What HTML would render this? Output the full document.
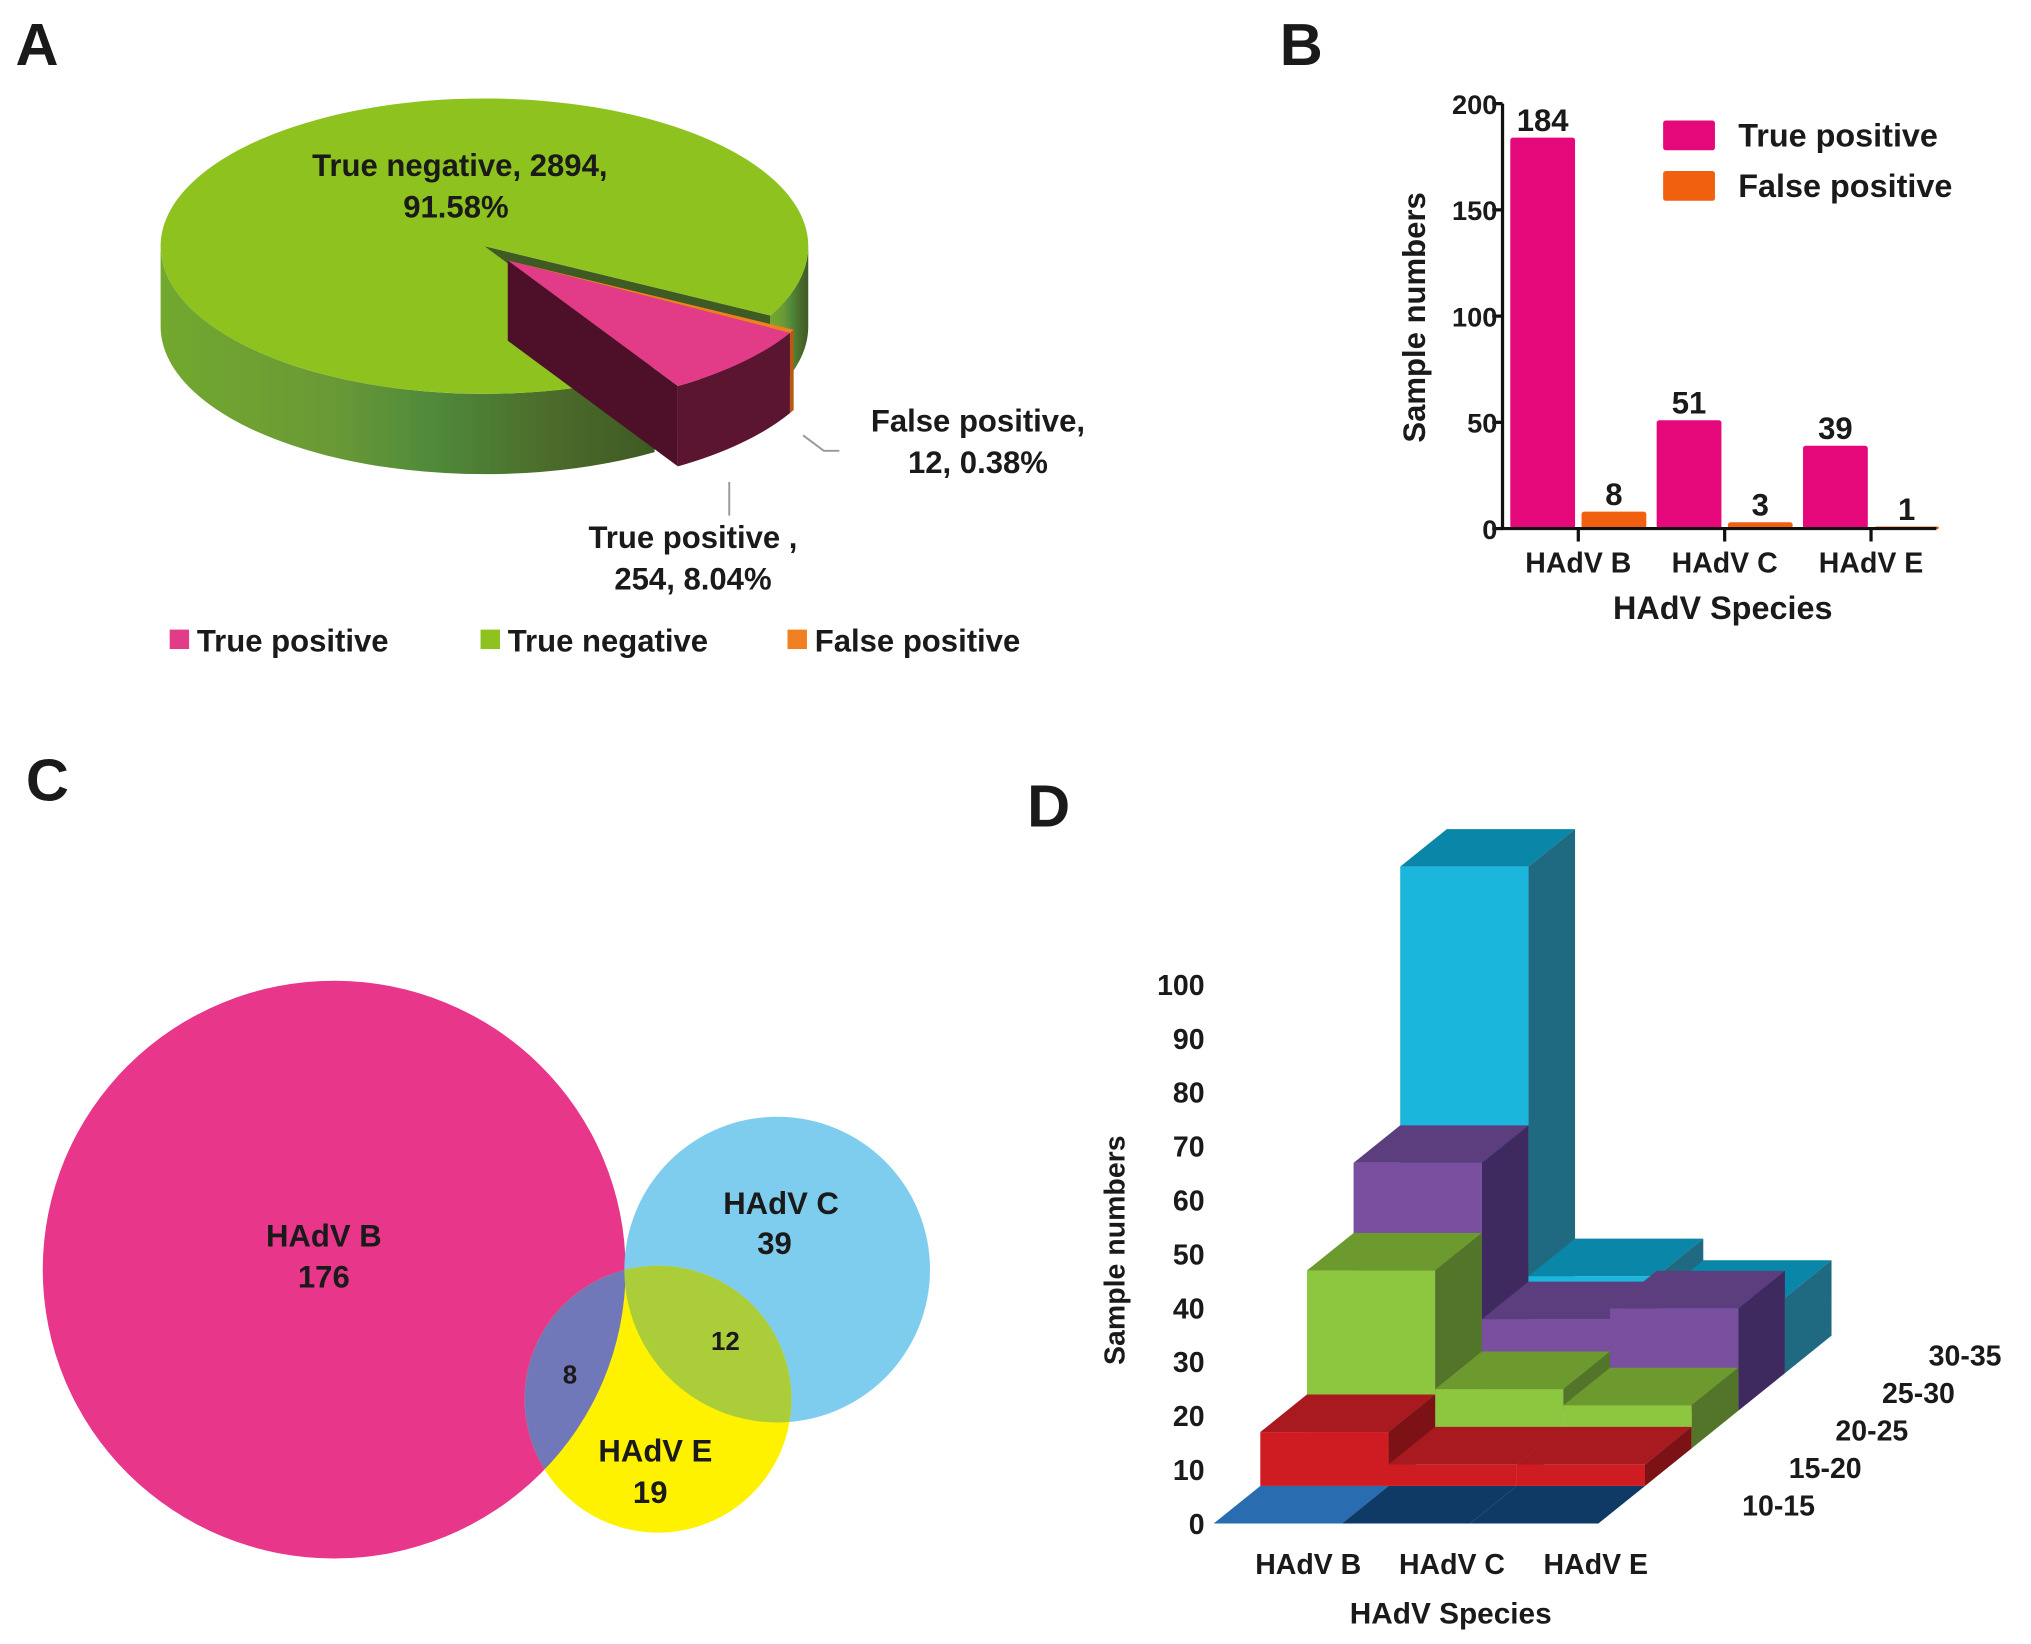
<!DOCTYPE html>
<html><head><meta charset="utf-8">
<style>
html,body{margin:0;padding:0;background:#fff;}
svg{display:block;}
text{font-family:"Liberation Sans",sans-serif;font-weight:bold;fill:#1a1a1a;}
</style></head>
<body>
<svg id="fig" width="2031" height="1644" viewBox="0 0 1568 1269" preserveAspectRatio="none" xmlns="http://www.w3.org/2000/svg">
<defs>
<linearGradient id="gside" x1="0" x2="1" y1="0" y2="0">
<stop offset="0" stop-color="#72a82e"/><stop offset="0.35" stop-color="#6a9936"/><stop offset="0.55" stop-color="#4f8a3a"/><stop offset="0.8" stop-color="#4b6a2a"/><stop offset="1" stop-color="#3e5a24"/>
</linearGradient>
</defs>
<text x="12" y="50" font-size="46">A</text>
<text x="988" y="50" font-size="46">B</text>
<text x="20" y="618" font-size="46">C</text>
<text x="793" y="638" font-size="46">D</text>
<g id="pieA"></g>
<g id="barB"></g>
<g id="vennC"></g>
<g id="bar3D"></g>
</svg>
<script>
const NS='http://www.w3.org/2000/svg';
function mk(parent,tag,attrs,txt){const e=document.createElementNS(NS,tag);for(const k in attrs)e.setAttribute(k,attrs[k]);if(txt!==undefined)e.textContent=txt;parent.appendChild(e);return e;}

/* ---------- Panel A: pie ---------- */
const pieCategories=['False positive','True positive','True negative'];
const pieValues=[12,254,2894];
const pieLegend=['True positive','True negative','False positive'];
(function(){
  const g=document.getElementById('pieA');
  const cx=374,cy=190,RX=250,RY=114,D=62,start=28;
  const total=pieValues.reduce((a,b)=>a+b,0);
  const rad=a=>a*Math.PI/180;
  const pt=(t,ox,oy,dd)=>[cx+ox+RX*Math.cos(rad(t)),cy+oy+RY*Math.sin(rad(t))+(dd||0)];
  let a=start;const sl=[];
  pieValues.forEach((v,i)=>{const sw=v/total*360;sl.push({a0:a,a1:a+sw,i});a+=sw;});
  const off=[[18,11],[18,11],[0,0]];
  const topCol=['#f07f22','#e23c88','#8dc21f'];
  const sideCol=['#b85a14','#5c1530','url(#gside)'];
  function side(s,e,ox,oy,fill,name){
    const segs=[];
    for(const [lo,hi] of [[0,180],[360,540]]){const s2=Math.max(s,lo),e2=Math.min(e,hi);if(e2>s2)segs.push([s2,e2]);}
    segs.forEach(([s2,e2])=>{
      const p1=pt(s2,ox,oy),p2=pt(e2,ox,oy),p3=pt(e2,ox,oy,D),p4=pt(s2,ox,oy,D);
      const el=mk(g,'path',{d:`M${p1}A${RX} ${RY} 0 0 1 ${p2}L${p3}A${RX} ${RY} 0 0 0 ${p4}Z`,fill:fill});
      
      
    });
  }
  function top(s,e,ox,oy,fill,name){
    const p1=pt(s,ox,oy),p2=pt(e,ox,oy);const lg=(e-s)>180?1:0;
    const el=mk(g,'path',{d:`M${cx+ox},${cy+oy}L${p1}A${RX} ${RY} 0 ${lg} 1 ${p2}Z`,fill:fill});
    
    
  }
  const green=sl[2],pink=sl[1],fp=sl[0];
  // shadow in the gap
  const gp=pt(fp.a0,0,0);
  const sh=mk(g,'path',{d:`M${cx},${cy}L${gp}L${gp[0]},${gp[1]+D}L${cx},${cy+D}Z`,fill:'#3f5a22'});
  
  
  side(green.a0,green.a1,0,0,sideCol[2],'slice-true-negative-side');
  top(green.a0,green.a1,0,0,topCol[2],'slice-true-negative');
  const [ox,oy]=off[1];const ap=[cx+ox,cy+oy],pe=pt(pink.a1,ox,oy);
  const cut=mk(g,'path',{d:`M${ap}L${pe}L${pe[0]},${pe[1]+D}L${ap[0]},${ap[1]+D}Z`,fill:'#4e1028'});
  
  
  side(pink.a0,pink.a1,ox,oy,sideCol[1],'slice-true-positive-side');
  top(pink.a0,pink.a1,ox,oy,topCol[1],'slice-true-positive');
  side(fp.a0,fp.a1,off[0][0],off[0][1],sideCol[0],'slice-false-positive-side');
  top(fp.a0,fp.a1,off[0][0],off[0][1],topCol[0],'slice-false-positive');
  const l1=mk(g,'polyline',{points:'563,372 563,398',stroke:'#999',fill:'none','stroke-width':1.5});
  
  
  const l2=mk(g,'polyline',{points:'620,336 636,348 648,348',stroke:'#999',fill:'none','stroke-width':1.5});
  
  
  const lab=[['True negative, '+pieValues[2]+',',355,136],[(pieValues[2]/total*100).toFixed(2)+'%',352,168],
    ['False positive,',755,333],[pieValues[0]+', '+(pieValues[0]/total*100).toFixed(2)+'%',755,365],
    ['True positive ,',535,423],[pieValues[1]+', '+(pieValues[1]/total*100).toFixed(2)+'%',535,455]];
  lab.forEach(([t,x,y])=>{const e=mk(g,'text',{x:x,y:y,'font-size':24,'text-anchor':'middle'},t);
    
    });
  const lx=[131,371,608],lc=['#e23c88','#8dc21f','#f07f22'];
  pieLegend.forEach((t,i)=>{
    const r=mk(g,'rect',{x:lx[i],y:486,width:15,height:15,fill:lc[i]});
    
    
    const e=mk(g,'text',{x:lx[i]+21,y:503,'font-size':24},t);
    
    
  });
})();

/* ---------- Panel B: grouped bar ---------- */
const barCategories=['HAdV B','HAdV C','HAdV E'];
const truePositive=[184,51,39];
const falsePositive=[8,3,1];
const barTicks=[0,50,100,150,200];
(function(){
  const g=document.getElementById('barB');
  const x0=1160,y0=408,yTop=80,ymax=200;
  const y=v=>y0-(y0-yTop)*v/ymax;
  const groupW=113,bw=50,gx=i=>1166+i*groupW;
  barCategories.forEach((c,i)=>{
    const h1=mk(g,'rect',{x:gx(i),y:y(truePositive[i]),width:bw,height:y0-y(truePositive[i]),fill:'#e4087a',rx:2});
    
    
    const h2=mk(g,'rect',{x:gx(i)+bw+5,y:y(falsePositive[i]),width:bw,height:Math.max(2,y0-y(falsePositive[i])),fill:'#f0600e',rx:2});
    
    
    const t1=mk(g,'text',{x:gx(i)+bw/2,y:y(truePositive[i])-5,'font-size':24,'text-anchor':'middle'},truePositive[i]);
    
    
    const t2=mk(g,'text',{x:gx(i)+bw*1.5+5,y:y(falsePositive[i])-5,'font-size':24,'text-anchor':'middle'},falsePositive[i]);
    
    
    const tk=mk(g,'line',{x1:gx(i)+bw+2.5,x2:gx(i)+bw+2.5,y1:y0,y2:y0+10,stroke:'#111','stroke-width':2.5});
    
    
    const xl=mk(g,'text',{x:gx(i)+bw+2.5,y:442,'font-size':22,'text-anchor':'middle'},c);
    
    
  });
  const ax=mk(g,'path',{d:`M${x0},${yTop}V${y0}H1495`,stroke:'#111','stroke-width':2.5,fill:'none'});
  
  
  barTicks.forEach(v=>{
    const l=mk(g,'line',{x1:x0-8,x2:x0,y1:y(v),y2:y(v),stroke:'#111','stroke-width':2.5});
    
    
    const t=mk(g,'text',{x:x0-4,y:y(v)+8,'font-size':21,'text-anchor':'end'},v);
    
    
  });
  const yt=mk(g,'text',{x:0,y:0,'font-size':24,'text-anchor':'middle',transform:'translate(1100,245) rotate(-90)'},'Sample numbers');
  
  
  const xt=mk(g,'text',{x:1330,y:478,'font-size':25,'text-anchor':'middle'},'HAdV Species');
  
  
  [['True positive','#e4087a',93],['False positive','#f0600e',132]].forEach(([t,c,yy])=>{
    const r=mk(g,'rect',{x:1284,y:yy,width:40,height:23,fill:c,rx:2});
    
    
    const e=mk(g,'text',{x:1342,y:yy+20,'font-size':25},t);
    
    
  });
})();

/* ---------- Panel C: Venn ---------- */
const vennSets=['HAdV B','HAdV C','HAdV E'];
const vennOnly=[176,39,19];
const vennOverlaps=[8,12];
(function(){
  const g=document.getElementById('vennC');
  const defs=mk(g,'defs',{});
  const B={cx:258,cy:980,rx:225,ry:223},C={cx:600,cy:980,rx:118,ry:118},E={cx:508,cy:1080,rx:103,ry:103};
  [['clipB',B],['clipC',C]].forEach(([id,s])=>{const cp=mk(defs,'clipPath',{id:id});mk(cp,'ellipse',s);});
  const add=(s,fill,name,clip)=>{const a=Object.assign({fill:fill},s);if(clip)a['clip-path']='url(#'+clip+')';const e=mk(g,'ellipse',a);
    
    };
  add(B,'#e8368a','set-hadv-b');
  add(C,'#7fcdee','set-hadv-c');
  add(E,'#fff200','set-hadv-e');
  add(E,'#7178ba','overlap-b-e','clipB');
  add(E,'#abcd3a','overlap-c-e','clipC');
  const labs=[['HAdV B',250,962,24],[String(vennOnly[0]),250,994,24],['HAdV C',603,937,24],[String(vennOnly[1]),598,968,24],
    ['HAdV E',506,1128,24],[String(vennOnly[2]),502,1160,24],[String(vennOverlaps[0]),440,1068,20],[String(vennOverlaps[1]),560,1042,20]];
  labs.forEach(([t,x,y,s])=>{const e=mk(g,'text',{x:x,y:y,'font-size':s,'text-anchor':'middle',fill:'#333'},t);
    
    });
})();

/* ---------- Panel D: 3D bars ---------- */
const d3Species=['HAdV B','HAdV C','HAdV E'];
const d3Ages=['10-15','15-20','20-25','25-30','30-35'];
const age1015=[0,0,0];
const age1520=[10,4,4];
const age2025=[33,11,8];
const age2530=[46,17,19];
const age3035=[94,18,14];
const d3Ticks=[0,10,20,30,40,50,60,70,80,90,100];
(function(){
  const g=document.getElementById('bar3D');
  const rows=[age1015,age1520,age2025,age2530,age3035];
  const X0=937,Y0=1176,CW=99,DX=36,DY=-29,U=4.16;
  const y=v=>v*U;
  const cols=[
    [['#2a6cb0','#2f78c0','#1c4f86'],['#0f3a66','#143f6c','#0b2c4f'],['#0f3a66','#143f6c','#0b2c4f']],
    [['#cf1c22','#a81a1f','#7c1216']],[['#8dc63f','#6d9a2f','#53752a']],[['#7a4f9f','#5c3d7e','#3f2a60']],[['#1bb6dc','#0a86a8','#1f6a80']]];
  for(let r=rows.length-1;r>=0;r--){
    for(let c=0;c<3;c++){
      const v=rows[r][c];const h=Math.max(y(v),r===0?0:3);
      const cc=(cols[r][c]||cols[r][0]);
      const fx=X0+r*DX+c*CW,fy=Y0+r*DY;
      if(r===0){
        const e=mk(g,'polygon',{points:`${fx},${fy} ${fx+CW},${fy} ${fx+CW+DX},${fy+DY} ${fx+DX},${fy+DY}`,fill:cc[0]});
        
        
        continue;
      }
      const top=mk(g,'polygon',{points:`${fx},${fy-h} ${fx+CW},${fy-h} ${fx+CW+DX},${fy-h+DY} ${fx+DX},${fy-h+DY}`,fill:cc[1]});
      
      
      const sd=mk(g,'polygon',{points:`${fx+CW},${fy} ${fx+CW},${fy-h} ${fx+CW+DX},${fy-h+DY} ${fx+CW+DX},${fy+DY}`,fill:cc[2]});
      
      
      const fr=mk(g,'rect',{x:fx,y:fy-h,width:CW,height:h,fill:cc[0]});
      
      
    }
  }
  d3Ticks.forEach(v=>{const t=mk(g,'text',{x:930,y:Y0-y(v)+8,'font-size':22,'text-anchor':'end'},v);
    
    });
  d3Ages.forEach((a,r)=>{const t=mk(g,'text',{x:1345+r*36,y:1170-r*29,'font-size':22},a);
    
    });
  d3Species.forEach((s,c)=>{const t=mk(g,'text',{x:1010+c*111,y:1215,'font-size':22,'text-anchor':'middle'},s);
    
    });
  const xt=mk(g,'text',{x:1120,y:1253,'font-size':23,'text-anchor':'middle'},'HAdV Species');
  
  
  const yt=mk(g,'text',{x:0,y:0,'font-size':22,'text-anchor':'middle',transform:'translate(868,965) rotate(-90)'},'Sample numbers');
  
  
})();
</script>
</body></html>
